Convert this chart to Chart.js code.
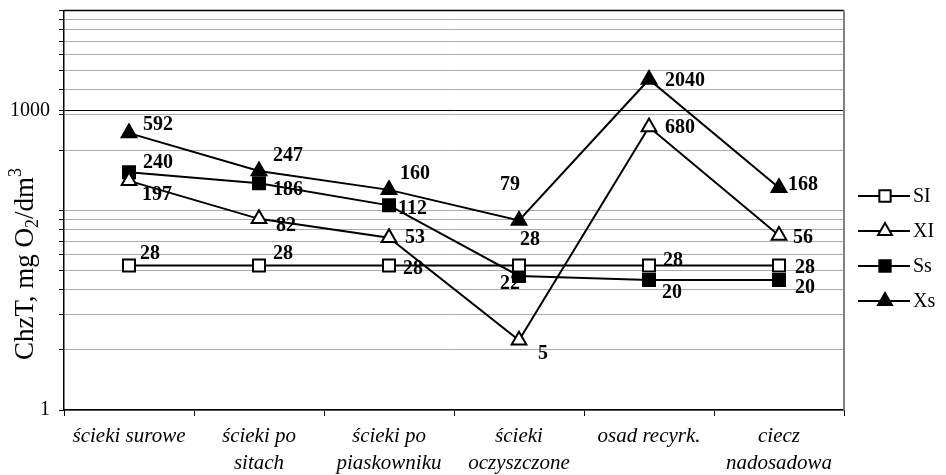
<!DOCTYPE html>
<html>
<head>
<meta charset="utf-8">
<script src="https://cdn.jsdelivr.net/npm/chart.js@4.4.0/dist/chart.umd.min.js"></script>
<style>
html,body{margin:0;padding:0;background:#fff;}
canvas{display:block;}
</style>
</head>
<body>
<canvas id="c" width="946" height="475"></canvas>
<script>
// ---- data ----
const categories = [["ścieki surowe"], ["ścieki po", "sitach"], ["ścieki po", "piaskowniku"], ["ścieki", "oczyszczone"], ["osad recyrk."], ["ciecz", "nadosadowa"]];
const seriesNames = ["SI", "XI", "Ss", "Xs"];
const SI = [28, 28, 28, 28, 28, 28];
const XI = [197, 82, 53, 5, 680, 56];
const Ss = [240, 186, 112, 22, 20, 20];
const Xs = [592, 247, 160, 79, 2040, 168];
const gridValues = [1, 4, 9, 16, 25, 36, 49, 64, 81, 100, 400, 900, 1000, 1600, 2500, 3600, 4900, 6400, 8100, 10000];
const labeledTicks = [1, 1000];
const yTitleParts = [["ChzT, mg O", "n"], ["2", "sub"], ["/dm", "n"], ["3", "sup"]];

// ---- style ----
const SERIF = '"Liberation Serif", "Times New Roman", serif';
const labelOffsets = [
  [[11, -12], [14, -12], [14, 3], [1, -26], [14, -5], [16, 2]],      // SI
  [[13, 14], [17, 7], [16, 0], [19, 14], [16, 1], [14, 2]],           // XI
  [[14, -9], [14, 6], [9, 3], [-19, 8], [13, 13], [16, 8]],           // Ss
  [[14, -8], [14, -15], [11, -16], [-19, -36], [16, 1], [9, -3]]      // Xs
];
const legendY = [196, 231, 266, 301];

const mk = (name, data, style, fill) => ({
  label: name, data: data,
  borderColor: '#000', borderWidth: 2,
  pointStyle: style, pointRadius: 8.5,
  pointBackgroundColor: fill, pointBorderColor: '#000', pointBorderWidth: 2,
  pointHoverRadius: 8.5, tension: 0, fill: false
});

const datasets = [
  mk(seriesNames[0], SI, 'rect', '#fff'),
  mk(seriesNames[1], XI, 'triangle', '#fff'),
  mk(seriesNames[2], Ss, 'rect', '#000'),
  mk(seriesNames[3], Xs, 'triangle', '#000')
];

const framePlugin = {
  id: 'frame',
  beforeDatasetsDraw(chart) {
    const {ctx, chartArea: a} = chart;
    ctx.save();
    ctx.strokeStyle = '#000'; ctx.lineWidth = 1.5;
    ctx.beginPath(); ctx.moveTo(a.left, a.top); ctx.lineTo(a.right, a.top); ctx.stroke();
    ctx.strokeStyle = '#808080'; ctx.lineWidth = 2;
    ctx.beginPath(); ctx.moveTo(a.right, a.top); ctx.lineTo(a.right, a.bottom); ctx.stroke();
    ctx.restore();
  }
};

const labelPlugin = {
  id: 'vlabels',
  afterDatasetsDraw(chart) {
    const ctx = chart.ctx;
    ctx.save();
    ctx.font = 'bold 20px ' + SERIF;
    ctx.fillStyle = '#000';
    ctx.textAlign = 'left';
    ctx.textBaseline = 'middle';
    chart.data.datasets.forEach((ds, di) => {
      const meta = chart.getDatasetMeta(di);
      meta.data.forEach((pt, i) => {
        const o = labelOffsets[di][i];
        ctx.fillText(String(ds.data[i]), pt.x + o[0], pt.y + o[1]);
      });
    });
    ctx.restore();
  }
};

const legendPlugin = {
  id: 'legendR',
  afterDraw(chart) {
    const ctx = chart.ctx;
    ctx.save();
    chart.data.datasets.forEach((ds, i) => {
      const y = legendY[i];
      ctx.strokeStyle = '#000'; ctx.lineWidth = 2;
      ctx.beginPath(); ctx.moveTo(858, y); ctx.lineTo(910, y); ctx.stroke();
      ctx.fillStyle = ds.pointBackgroundColor; ctx.strokeStyle = '#000'; ctx.lineWidth = 2;
      Chart.helpers.drawPoint(ctx, {pointStyle: ds.pointStyle, radius: 8, rotation: 0, borderWidth: 2}, 885, y);
      ctx.fillStyle = '#000';
      ctx.font = '20px ' + SERIF;
      ctx.textAlign = 'left'; ctx.textBaseline = 'middle';
      ctx.fillText(ds.label, 913, y + 1);
    });
    ctx.restore();
  }
};

const titlePlugin = {
  id: 'ytitle',
  afterDraw(chart) {
    const ctx = chart.ctx;
    ctx.save();
    const big = '27px ' + SERIF, small = '18px ' + SERIF;
    let total = 0;
    const widths = yTitleParts.map(p => { ctx.font = p[1] === 'n' ? big : small; const w = ctx.measureText(p[0]).width; total += w; return w; });
    ctx.translate(24, 264);
    ctx.rotate(-Math.PI / 2);
    ctx.fillStyle = '#000';
    ctx.textBaseline = 'alphabetic';
    ctx.textAlign = 'left';
    let x = -total / 2;
    const base = 9;
    yTitleParts.forEach((p, i) => {
      ctx.font = p[1] === 'n' ? big : small;
      const dy = p[1] === 'sub' ? 5 : (p[1] === 'sup' ? -12 : 0);
      ctx.fillText(p[0], x, base + dy);
      x += widths[i];
    });
    ctx.restore();
  }
};

new Chart(document.getElementById('c'), {
  type: 'line',
  data: { labels: categories, datasets: datasets },
  options: {
    responsive: false,
    animation: false,
    events: [],
    layout: { padding: { left: 0, top: 8, right: 102, bottom: 0 } },
    plugins: { legend: { display: false }, tooltip: { enabled: false } },
    scales: {
      x: {
        type: 'category',
        offset: true,
        grid: { offset: true, drawOnChartArea: false, drawTicks: true, tickLength: 6, tickColor: '#000', color: '#000' },
        border: { color: '#000', width: 1.5 },
        ticks: { color: '#000', font: { family: SERIF, size: 21, style: 'italic', lineHeight: 1.3 }, padding: 7, maxRotation: 0, autoSkip: false },
        afterFit(s) { s.height = 65; s.paddingLeft = 0; s.paddingRight = 0; }
      },
      y: {
        type: 'logarithmic',
        min: 1, max: 10000,
        afterBuildTicks(s) { s.ticks = gridValues.map(v => ({ value: v })); },
        grid: {
          color: c => (c.tick && c.tick.value === 1000) ? '#000' : '#aaaaaa',
          lineWidth: 1,
          tickLength: 5, tickColor: '#000'
        },
        border: { color: '#000', width: 1.5 },
        ticks: {
          color: '#000', font: { family: SERIF, size: 20 }, padding: 9, autoSkip: false,
          callback: v => labeledTicks.includes(v) ? String(v) : ''
        },
        afterFit(s) { s.width = 64; s.paddingTop = 0; s.paddingBottom = 0; }
      }
    }
  },
  plugins: [framePlugin, labelPlugin, legendPlugin, titlePlugin]
});
</script>
</body>
</html>
